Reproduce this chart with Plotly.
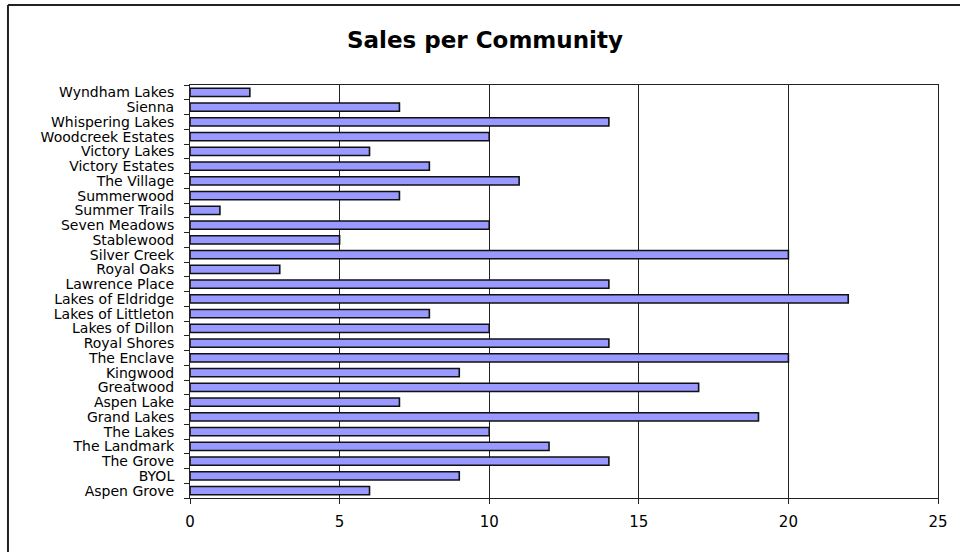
import plotly.graph_objects as go

communities = [
    "Aspen Grove", "BYOL", "The Grove", "The Landmark", "The Lakes", "Grand Lakes",
    "Aspen Lake", "Greatwood", "Kingwood", "The Enclave", "Royal Shores",
    "Lakes of Dillon", "Lakes of Littleton", "Lakes of Eldridge", "Lawrence Place",
    "Royal Oaks", "Silver Creek", "Stablewood", "Seven Meadows", "Summer Trails",
    "Summerwood", "The Village", "Victory Estates", "Victory Lakes",
    "Woodcreek Estates", "Whispering Lakes", "Sienna", "Wyndham Lakes",
]
sales = [6, 9, 14, 12, 10, 19, 7, 17, 9, 20, 14, 10, 8, 22, 14, 3, 20, 5, 10, 1,
         7, 11, 8, 6, 10, 14, 7, 2]
x_ticks = [0, 5, 10, 15, 20, 25]

W, H = 960, 552
L, R, T, B = 190, 18, 85, 54
pw, ph = W - L - R, H - T - B
FONT = "DejaVu Sans, Liberation Sans, Arial, sans-serif"

fig = go.Figure(go.Bar(
    y=communities, x=sales, orientation="h",
    marker=dict(color="#9999FF", line=dict(color="#111111", width=1.6)),
    width=0.55,
))

def px2paper_x(p):
    return (p - L) / pw

def px2paper_y(p):
    return (H - B - p) / ph

fig.update_layout(
    width=W, height=H,
    margin=dict(l=L, r=R, t=T, b=B),
    paper_bgcolor="white", plot_bgcolor="white",
    font=dict(family=FONT, color="black"),
    title=dict(text="<b>Sales per Community</b>", x=485 / W, xanchor="center",
               y=1 - 40 / H, yanchor="middle",
               font=dict(size=23, family=FONT)),
    showlegend=False,
    xaxis=dict(range=[0, 25], tickvals=x_ticks, ticks="outside", ticklen=5,
               tickcolor="#222", showline=True, linecolor="#222", linewidth=1,
               mirror=True, showgrid=True, gridcolor="#222", gridwidth=1,
               zeroline=False, tickfont=dict(size=15), ticklabelstandoff=5,
               fixedrange=True),
    yaxis=dict(type="category", categoryorder="array", categoryarray=communities,
               tickmode="array", tickvals=communities, ticktext=communities,
               ticks="outside", ticklen=5, tickson="boundaries", tickcolor="#222",
               showline=True, linecolor="#222", linewidth=1, mirror=True,
               showgrid=False, tickfont=dict(size=14), ticklabelstandoff=12,
               fixedrange=True, range=[-0.5, len(communities) - 0.5]),
    shapes=[
        dict(type="line", xref="paper", yref="paper",
             x0=px2paper_x(7), x1=px2paper_x(7), y0=px2paper_y(5), y1=px2paper_y(560),
             line=dict(color="#222", width=2)),
        dict(type="line", xref="paper", yref="paper",
             x0=px2paper_x(7), x1=px2paper_x(970), y0=px2paper_y(5), y1=px2paper_y(5),
             line=dict(color="#222", width=2)),
    ],
)

fig.write_html("out.html")
